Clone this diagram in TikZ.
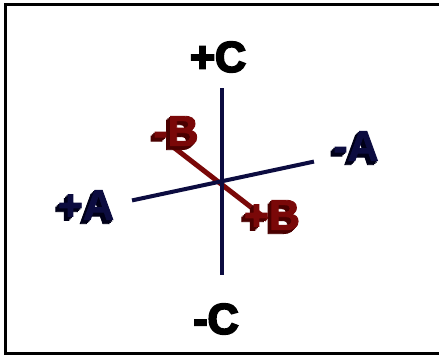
\documentclass[tikz,border=0pt]{standalone}
\usepackage{fontspec}
\setmainfont{Liberation Sans}[BoldFeatures={FakeBold=2}]
\newfontfamily\heavyfont{Liberation Sans}[BoldFeatures={FakeBold=4.5}]
\usetikzlibrary{calc}
\definecolor{navy}{HTML}{0C0C40}
\definecolor{navyd}{HTML}{000018}
\definecolor{bred}{HTML}{7A0808}
\definecolor{bredd}{HTML}{4A0000}
\tikzset{
  lab/.style={font=\fontsize{43}{43}\selectfont\bfseries, inner sep=0pt},
  hlab/.style={font=\heavyfont\fontsize{43}{43}\selectfont\bfseries, inner sep=0pt, text=black},
  axis/.style={line width=4pt, color=navy, line cap=rect},
  baxis/.style={line width=5pt, color=bred, line cap=rect},
  frame/.style={line width=3pt, color=black}
}
\newcommand{\tdlabel}[5]{% name, pos, face, shadow, text
  \foreach \k in {3,2,1}{\node[lab, text=#4] at ($(#2)+(-\k*1.3,\k*1.3)$) {#5};}
  \node[lab, text=#3] (#1) at (#2) {#5};
}
\begin{document}
\begin{tikzpicture}[x=1pt,y=-1pt]
\useasboundingbox (0,0) rectangle (439,356);
\fill[white] (0,0) rectangle (439,356);
\draw[frame] (445,4.5) -- (5.5,4.5) -- (5.5,353.5) -- (445,353.5);
% axis end points
\coordinate (ct) at (222,90);
\coordinate (cb) at (222,273);
\coordinate (al) at (134,200);
\coordinate (ar) at (312,162);
\coordinate (bl) at (172,146);
\coordinate (br) at (265,218);
\draw[baxis] (bl) -- (br);
\draw[axis] (al) -- (ar);
\draw[axis] (ct) -- (cb);
% labels
\node[hlab] (pc) at (218,57) {+C};
\node[hlab] (mc) at (216,319) {-C};
\tdlabel{pa}{86,205}{navy}{navyd}{+A}
\tdlabel{ma}{356,146}{navy}{navyd}{-A}
\tdlabel{pb}{272,215}{bred}{bredd}{+B}
\tdlabel{mb}{176,131}{bred}{bredd}{-B}
\end{tikzpicture}
\end{document}
